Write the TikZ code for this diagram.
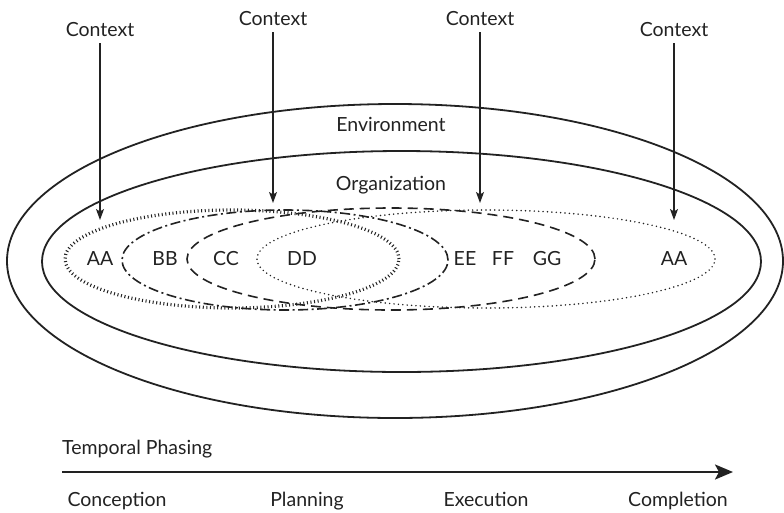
\documentclass[tikz,border=0pt]{standalone}
\usepackage{fontspec}
\setmainfont{Lato}
\usetikzlibrary{arrows.meta}
\definecolor{ink}{HTML}{222222}
\begin{document}
\begin{tikzpicture}[x=1pt,y=-1pt,
  lbl/.style={inner sep=0pt, anchor=base, text=ink, font=\fontsize{19.5}{22}\selectfont},
  ring/.style={draw=ink, line width=1.8pt},
  tickline/.style={draw=ink, line width=3.2pt, dash pattern=on 1pt off 2.6pt},
  dotline/.style={draw=ink, line width=1.7pt, line cap=round, dash pattern=on 0pt off 4.4pt},
  dashdotline/.style={draw=ink, line width=1.6pt, dash pattern=on 10pt off 3.5pt on 2pt off 3.5pt},
  dashline/.style={draw=ink, line width=1.6pt, dash pattern=on 10pt off 6pt},
  ctxarrow/.style={draw=ink, line width=1.1pt, -{Stealth[length=11pt, width=8pt, inset=2.5pt]}},
  timearrow/.style={draw=ink, line width=2.4pt, -{Stealth[length=18pt, width=15pt, inset=4pt]}}
]
\useasboundingbox (0,0) rectangle (784,512);

% environment and organization rings
\draw[ring] (395,261) ellipse [x radius=388pt, y radius=157pt];
\draw[ring] (401.5,261.5) ellipse [x radius=359.5pt, y radius=110.5pt];
\node[lbl] (env) at (391,131) {Environment};
\node[lbl] (org) at (391,190) {Organization};

% overlapping phase ellipses
\draw[tickline]    (232,259) ellipse [x radius=167pt, y radius=49pt];
\draw[dotline]     (486,259) ellipse [x radius=229pt, y radius=49pt];
\draw[dashdotline] (285,260) ellipse [x radius=163pt, y radius=50pt];
\draw[dashline]    (391,259) ellipse [x radius=204pt, y radius=51pt];

% phase labels
\node[lbl] (aa1) at (100,265) {AA};
\node[lbl] (bb)  at (165,265) {BB};
\node[lbl] (cc)  at (226,265) {CC};
\node[lbl] (dd)  at (302,265) {DD};
\node[lbl] (ee)  at (465,265) {EE};
\node[lbl] (ff)  at (503,265) {FF};
\node[lbl] (gg)  at (547,265) {GG};
\node[lbl] (aa2) at (674,265) {AA};

% context labels and their arrows
\node[lbl] (c1) at (100,36) {Context};
\node[lbl] (c2) at (273,25) {Context};
\node[lbl] (c3) at (480,25) {Context};
\node[lbl] (c4) at (674,36) {Context};
\coordinate (t1) at (100,220);
\coordinate (t2) at (273,203);
\coordinate (t3) at (480,203);
\coordinate (t4) at (674,220);
\coordinate (s1) at (100,43);
\coordinate (s2) at (273,32);
\coordinate (s3) at (480,32);
\coordinate (s4) at (674,43);
\draw[ctxarrow] (s1) -- (t1);
\draw[ctxarrow] (s2) -- (t2);
\draw[ctxarrow] (s3) -- (t3);
\draw[ctxarrow] (s4) -- (t4);

% temporal axis
\node[lbl, anchor=base west] (tp) at (62,454) {Temporal Phasing};
\coordinate (ax0) at (62,472);
\coordinate (ax1) at (733,472);
\draw[timearrow] (ax0) -- (ax1);
\node[lbl] (p1) at (117,506) {Conception};
\node[lbl] (p2) at (307,506) {Planning};
\node[lbl] (p3) at (486,506) {Execution};
\node[lbl] (p4) at (678,506) {Completion};
\end{tikzpicture}
\end{document}
